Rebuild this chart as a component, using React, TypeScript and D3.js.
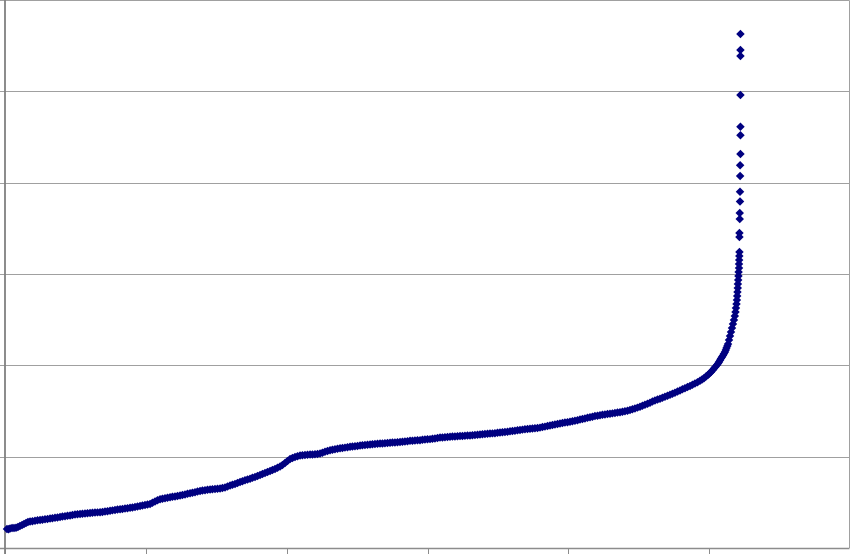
import React from "react";
import * as d3 from "d3";

// Sorted series, as [x, value] pairs.
// Slowly rising part of the curve
const risingPart: [number, number][] = [
  [1.4, 2.08], [2.5, 2.05], [3.6, 2.14], [5.0, 2.2], [6.4, 2.19], [7.8, 2.22], [9.2, 2.3],
  [10.6, 2.42], [12.1, 2.52], [13.5, 2.64], [14.9, 2.74], [16.3, 2.84], [17.8, 2.9], [19.5, 2.94],
  [21.3, 2.98], [23.1, 3.03], [24.9, 3.07], [26.6, 3.1], [28.4, 3.14], [30.2, 3.18], [32.0, 3.22],
  [33.7, 3.27], [35.5, 3.31], [37.3, 3.35], [39.1, 3.39], [40.8, 3.44], [42.6, 3.48], [44.4, 3.52],
  [46.2, 3.57], [47.9, 3.62], [49.7, 3.66], [51.5, 3.69], [53.3, 3.72], [55.0, 3.75], [56.8, 3.78],
  [58.6, 3.81], [60.4, 3.83], [62.1, 3.86], [63.9, 3.88], [65.7, 3.9], [67.5, 3.91], [69.2, 3.95],
  [71.0, 4.0], [72.8, 4.03], [74.6, 4.07], [76.3, 4.12], [78.1, 4.16], [79.9, 4.21], [81.7, 4.25],
  [83.4, 4.28], [85.2, 4.32], [87.0, 4.36], [88.8, 4.4], [90.5, 4.44], [92.3, 4.49], [94.1, 4.55],
  [95.9, 4.6], [97.6, 4.66], [99.4, 4.71], [101.2, 4.76], [103.0, 4.82], [104.7, 4.95], [106.5, 5.09],
  [108.3, 5.22], [110.1, 5.33], [111.8, 5.39], [113.6, 5.45], [115.4, 5.5], [117.2, 5.55], [118.9, 5.6],
  [120.7, 5.64], [122.5, 5.7], [124.3, 5.75], [126.0, 5.81], [127.8, 5.86], [129.6, 5.93], [131.4, 5.99],
  [133.1, 6.05], [134.9, 6.11], [136.7, 6.18], [138.5, 6.24], [140.2, 6.29], [142.0, 6.33], [143.8, 6.37],
  [145.6, 6.41], [147.3, 6.44], [149.1, 6.46], [150.9, 6.48], [152.7, 6.51], [154.4, 6.56], [156.2, 6.62],
  [158.0, 6.73], [159.8, 6.84], [161.5, 6.92], [163.3, 7.01], [165.1, 7.12], [166.9, 7.23], [168.6, 7.32],
  [170.4, 7.41], [172.2, 7.5], [174.0, 7.58], [175.7, 7.68], [177.5, 7.77], [179.3, 7.88], [181.1, 7.99],
  [182.8, 8.1], [184.6, 8.21], [186.4, 8.32], [188.2, 8.43], [189.9, 8.54], [191.7, 8.65], [193.5, 8.78],
  [195.3, 8.92], [197.0, 9.1], [198.8, 9.31], [200.6, 9.53], [202.4, 9.74], [204.1, 9.86], [205.9, 9.96],
  [207.7, 10.05], [209.5, 10.13], [211.2, 10.16], [213.0, 10.18], [214.8, 10.2], [216.6, 10.23],
  [218.3, 10.25], [220.1, 10.27], [221.9, 10.3], [223.7, 10.34], [225.4, 10.44], [227.2, 10.53],
  [229.0, 10.62], [230.8, 10.71], [232.5, 10.77], [234.3, 10.82], [236.1, 10.87], [237.9, 10.92],
  [239.6, 10.96], [241.4, 10.99], [243.2, 11.04], [245.0, 11.08], [246.7, 11.12], [248.5, 11.15],
  [250.3, 11.18], [252.1, 11.21], [253.8, 11.25], [255.6, 11.28], [257.4, 11.31], [259.2, 11.34],
  [260.9, 11.37], [262.7, 11.39], [264.5, 11.41], [266.3, 11.43], [268.0, 11.45], [269.8, 11.47],
  [271.6, 11.5], [273.4, 11.52], [275.1, 11.54], [276.9, 11.56], [278.7, 11.59], [280.5, 11.61],
  [282.2, 11.63], [284.0, 11.66], [285.8, 11.7], [287.6, 11.73], [289.3, 11.75], [291.1, 11.77],
  [292.9, 11.79], [294.7, 11.81], [296.4, 11.84], [298.2, 11.87], [300.0, 11.9], [301.8, 11.92],
  [303.5, 11.95], [305.3, 11.99], [307.1, 12.04], [308.9, 12.09], [310.6, 12.11], [312.4, 12.13],
  [314.2, 12.16], [316.0, 12.18], [317.7, 12.2], [319.5, 12.21], [321.3, 12.23], [323.1, 12.25],
  [324.8, 12.27], [326.6, 12.28], [328.4, 12.31], [330.2, 12.33], [331.9, 12.35], [333.7, 12.37],
  [335.5, 12.4], [337.3, 12.42], [339.0, 12.45], [340.8, 12.47], [342.6, 12.5], [344.4, 12.53],
  [346.1, 12.55], [347.9, 12.57], [349.7, 12.61], [351.5, 12.64], [353.2, 12.67], [355.0, 12.7],
  [356.8, 12.74], [358.6, 12.77], [360.3, 12.81], [362.1, 12.84], [363.9, 12.88], [365.7, 12.92],
  [367.4, 12.96], [369.2, 13.0], [371.0, 13.03], [372.8, 13.05], [374.5, 13.09], [376.3, 13.12],
  [378.1, 13.15], [379.9, 13.18], [381.6, 13.24], [383.4, 13.29], [385.2, 13.35], [387.0, 13.4],
  [388.7, 13.46], [390.5, 13.51], [392.3, 13.57], [394.1, 13.63], [395.8, 13.68], [397.6, 13.73],
  [399.4, 13.78], [401.2, 13.82], [402.9, 13.88], [404.7, 13.93], [406.5, 14.0], [408.3, 14.06],
  [410.0, 14.13], [411.8, 14.19], [413.6, 14.25], [415.4, 14.31], [417.1, 14.38], [418.9, 14.45],
  [420.7, 14.49], [422.5, 14.53], [424.2, 14.58], [426.0, 14.62], [427.8, 14.66], [429.6, 14.7],
  [431.3, 14.74], [433.1, 14.78], [434.9, 14.83], [436.7, 14.87], [438.4, 14.92], [440.2, 14.97],
  [442.0, 15.04], [443.8, 15.11], [445.5, 15.19], [447.3, 15.27], [449.1, 15.37], [450.9, 15.47],
  [452.6, 15.58], [454.4, 15.69], [456.2, 15.8], [458.0, 15.91], [459.7, 16.03], [461.5, 16.14],
  [463.3, 16.25], [465.1, 16.35], [466.8, 16.46], [468.6, 16.57], [470.4, 16.68], [472.2, 16.78],
  [473.9, 16.9], [475.7, 17.01], [477.5, 17.13], [479.3, 17.24], [481.0, 17.37], [482.8, 17.49],
  [484.6, 17.62], [486.4, 17.74], [488.1, 17.88], [489.9, 18.01], [491.7, 18.16],
];

// The knee and the near-vertical band
const steepPart: [number, number][] = [
  [493.5, 18.32], [494.9, 18.46], [496.3, 18.59], [497.7, 18.77], [499.1, 18.94], [500.2, 19.1],
  [501.3, 19.27], [502.4, 19.46], [503.4, 19.65], [504.5, 19.85], [505.5, 20.04], [506.3, 20.2],
  [507.0, 20.36], [507.7, 20.55], [508.4, 20.75], [509.1, 20.91], [509.8, 21.08], [510.5, 21.27],
  [511.2, 21.46], [511.8, 21.68], [512.3, 21.9], [512.9, 22.12], [513.4, 22.34], [514.1, 22.77],
  [514.8, 23.21], [515.5, 23.65], [516.2, 24.09], [516.9, 24.53], [517.6, 24.96], [518.2, 25.4],
  [518.7, 25.84], [519.0, 26.28], [519.4, 26.72], [519.7, 27.15], [519.9, 27.59], [520.1, 28.03],
  [520.3, 28.47], [520.4, 28.91], [520.6, 29.34], [520.8, 29.78], [520.9, 30.22], [521.2, 30.66],
  [521.2, 31.09], [521.3, 31.53], [521.4, 31.97], [521.5, 32.41],
];

// Isolated largest values at the top
const topValues: [number, number][] = [
  [521.5, 34.05], [521.5, 34.49], [521.7, 36.02], [521.7, 36.68], [521.9, 37.94], [521.9, 39.01],
  [522.0, 40.73], [522.0, 41.9], [522.2, 43.14], [522.2, 45.19], [522.2, 46.13], [522.2, 49.6],
  [522.2, 53.87], [522.2, 54.53], [522.2, 56.28],
];

const xTicks: number[] = [0, 100, 200, 300, 400, 500, 600];
const yTicks: number[] = [0, 10, 20, 30, 40, 50, 60];

const W = 850;
const H = 554;
const left = 5;
const right = 849.5;
const top = 0.5;
const bottom = 548;

const diamond = {
  draw(ctx: any, size: number) {
    const r = Math.sqrt(size) / 2;
    ctx.moveTo(0, -r);
    ctx.lineTo(r, 0);
    ctx.lineTo(0, r);
    ctx.lineTo(-r, 0);
    ctx.closePath();
  },
};

export default function App() {
  const x = d3.scaleLinear().domain([0, 600]).range([left, 850]);
  const y = d3.scaleLinear().domain([0, 60]).range([bottom, 0]);
  const sym = d3.symbol().type(diamond as any).size(72)();
  const pts = [...risingPart, ...steepPart, ...topValues];
  const snap = (v: number) => Math.round(v) + 0.5;

  return (
    <svg
      width={W}
      height={H}
      style={{ position: "fixed", left: 0, top: 0, background: "#fff" }}
    >
      <rect x={0} y={0} width={W} height={H} fill="#ffffff" />
      {yTicks
        .filter((t) => t > 0)
        .map((t) => (
          <line
            key={"g" + t}
            x1={0}
            x2={right}
            y1={Math.max(snap(y(t)), top)}
            y2={Math.max(snap(y(t)), top)}
            stroke="#a0a0a0"
            strokeWidth={1}
          />
        ))}
      <line x1={right} x2={right} y1={top} y2={bottom} stroke="#a0a0a0" strokeWidth={1} />
      {xTicks
        .filter((t) => x(t) < 840)
        .map((t) => (
          <line
            key={"xt" + t}
            x1={snap(x(t))}
            x2={snap(x(t))}
            y1={bottom}
            y2={H}
            stroke="#8c8c8c"
            strokeWidth={1}
          />
        ))}
      <line x1={0} x2={right} y1={bottom + 0.5} y2={bottom + 0.5} stroke="#8c8c8c" strokeWidth={1.5} />
      <line x1={left} x2={left} y1={0} y2={H} stroke="#808080" strokeWidth={1.8} />
      <g fill="#000080">
        {pts.map((p, i) => (
          <path key={i} d={sym || ""} transform={`translate(${x(p[0])},${y(p[1])})`} />
        ))}
      </g>
    </svg>
  );
}
